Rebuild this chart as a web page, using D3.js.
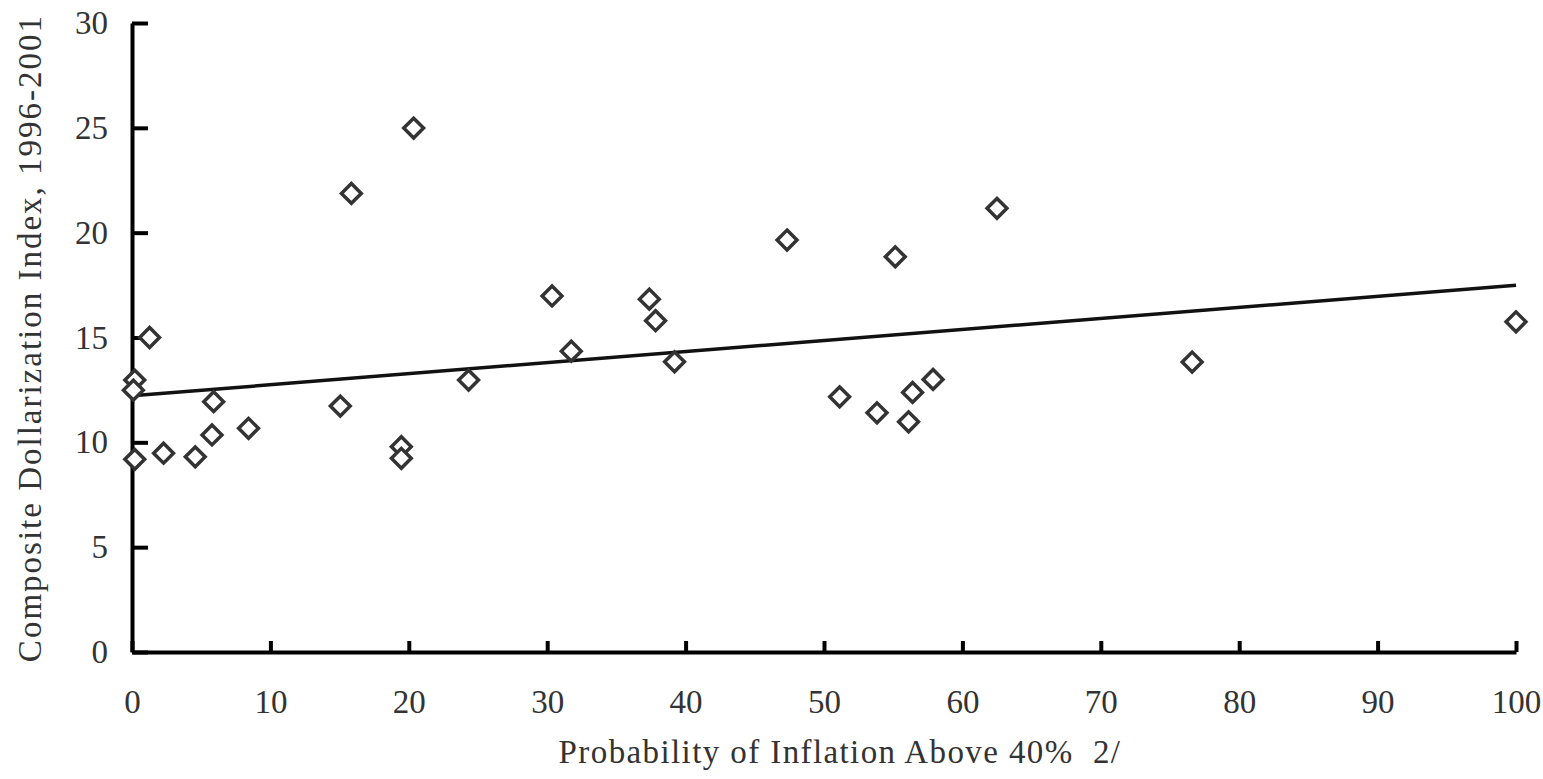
<!DOCTYPE html>
<html>
<head>
<meta charset="utf-8">
<script src="https://cdnjs.cloudflare.com/ajax/libs/d3/7.8.5/d3.min.js"></script>
<style>
  body { margin: 0; background: #fff; }
  text { font-family: "Liberation Serif", "Times New Roman", serif; fill: #333; }
</style>
</head>
<body>
<div class="graph"></div>
<script>
// probability of inflation above 40% (x) vs dollarization index (y)
const probInflation = [0.2, 0.1, 0.2, 1.27, 2.28, 4.57, 5.78, 5.9, 8.42, 15.05, 15.85, 19.46, 19.46, 20.35, 24.32,
    30.35, 31.74, 37.38, 37.83, 39.2, 47.33, 51.13, 53.83, 55.15, 56.11, 56.4, 57.88, 62.5, 76.6, 100];
const dollarIndex = [12.97, 12.49, 9.19, 15.0, 9.48, 9.31, 10.35, 11.94, 10.67, 11.73, 21.87, 9.79, 9.24, 24.99, 12.97,
    16.98, 14.35, 16.83, 15.8, 13.84, 19.65, 12.17, 11.41, 18.85, 10.98, 12.38, 13.0, 21.16, 13.83, 15.75];
// fitted line end points
const trendX = [0, 100];
const trendY = [12.22, 17.49];
const xTicks = [0, 10, 20, 30, 40, 50, 60, 70, 80, 90, 100];
const yTicks = [0, 5, 10, 15, 20, 25, 30];

const svgDim = { w: 1543, h: 779, left: 132, right: 1516, top: 23, bottom: 652 };
const svg = d3.select('.graph').append('svg')
    .attr('width', svgDim.w).attr('height', svgDim.h);

const xScale = d3.scaleLinear().domain([0, 100]).range([svgDim.left, svgDim.right]);
const yScale = d3.scaleLinear().domain([0, 30]).range([svgDim.bottom, svgDim.top]);

// axes: ticks point inside the plot
const xAxis = d3.axisBottom(xScale).tickValues(xTicks).tickSizeInner(-11).tickSizeOuter(0).tickPadding(38);
const yAxis = d3.axisLeft(yScale).tickValues(yTicks).tickSizeInner(-16).tickSizeOuter(0).tickPadding(24);

const gx = svg.append('g').attr('transform', `translate(0,${svgDim.bottom})`).call(xAxis);
const gy = svg.append('g').attr('transform', `translate(${svgDim.left},0)`).call(yAxis);

[gx, gy].forEach(g => {
    g.selectAll('path').attr('stroke', '#000').attr('stroke-width', 4);
    g.selectAll('line').attr('stroke', '#000').attr('stroke-width', 4);
    g.selectAll('text').style('font-family', '"Liberation Serif", serif')
        .style('font-size', '33px').attr('fill', '#333');
});

// trend line
const pts = trendX.map((x, i) => [x, trendY[i]]);
svg.append('path')
    .attr('d', d3.line().x(d => xScale(d[0])).y(d => yScale(d[1]))(pts))
    .attr('stroke', '#111').attr('stroke-width', 3.5).attr('fill', 'none');

// diamonds
const sym = d3.symbol().type(d3.symbolDiamond2).size(250);
svg.selectAll('.pt')
    .data(probInflation.map((x, i) => [x, dollarIndex[i]]))
    .enter()
    .append('path')
    .attr('class', 'pt')
    .attr('transform', d => `translate(${xScale(d[0])},${yScale(d[1])})`)
    .attr('d', sym)
    .attr('fill', '#fff')
    .attr('stroke', '#333')
    .attr('stroke-width', 3.5);

// axis titles
svg.append('text')
    .attr('x', 840).attr('y', 763)
    .attr('text-anchor', 'middle')
    .style('font-size', '33px')
    .style('letter-spacing', '1.4px')
    .style('white-space', 'pre')
    .text('Probability of Inflation Above 40%  2/');

svg.append('text')
    .attr('transform', 'translate(41,338) rotate(-90)')
    .attr('text-anchor', 'middle')
    .style('font-size', '33px')
    .style('letter-spacing', '2px')
    .text('Composite Dollarization Index, 1996-2001');
</script>
</body>
</html>
